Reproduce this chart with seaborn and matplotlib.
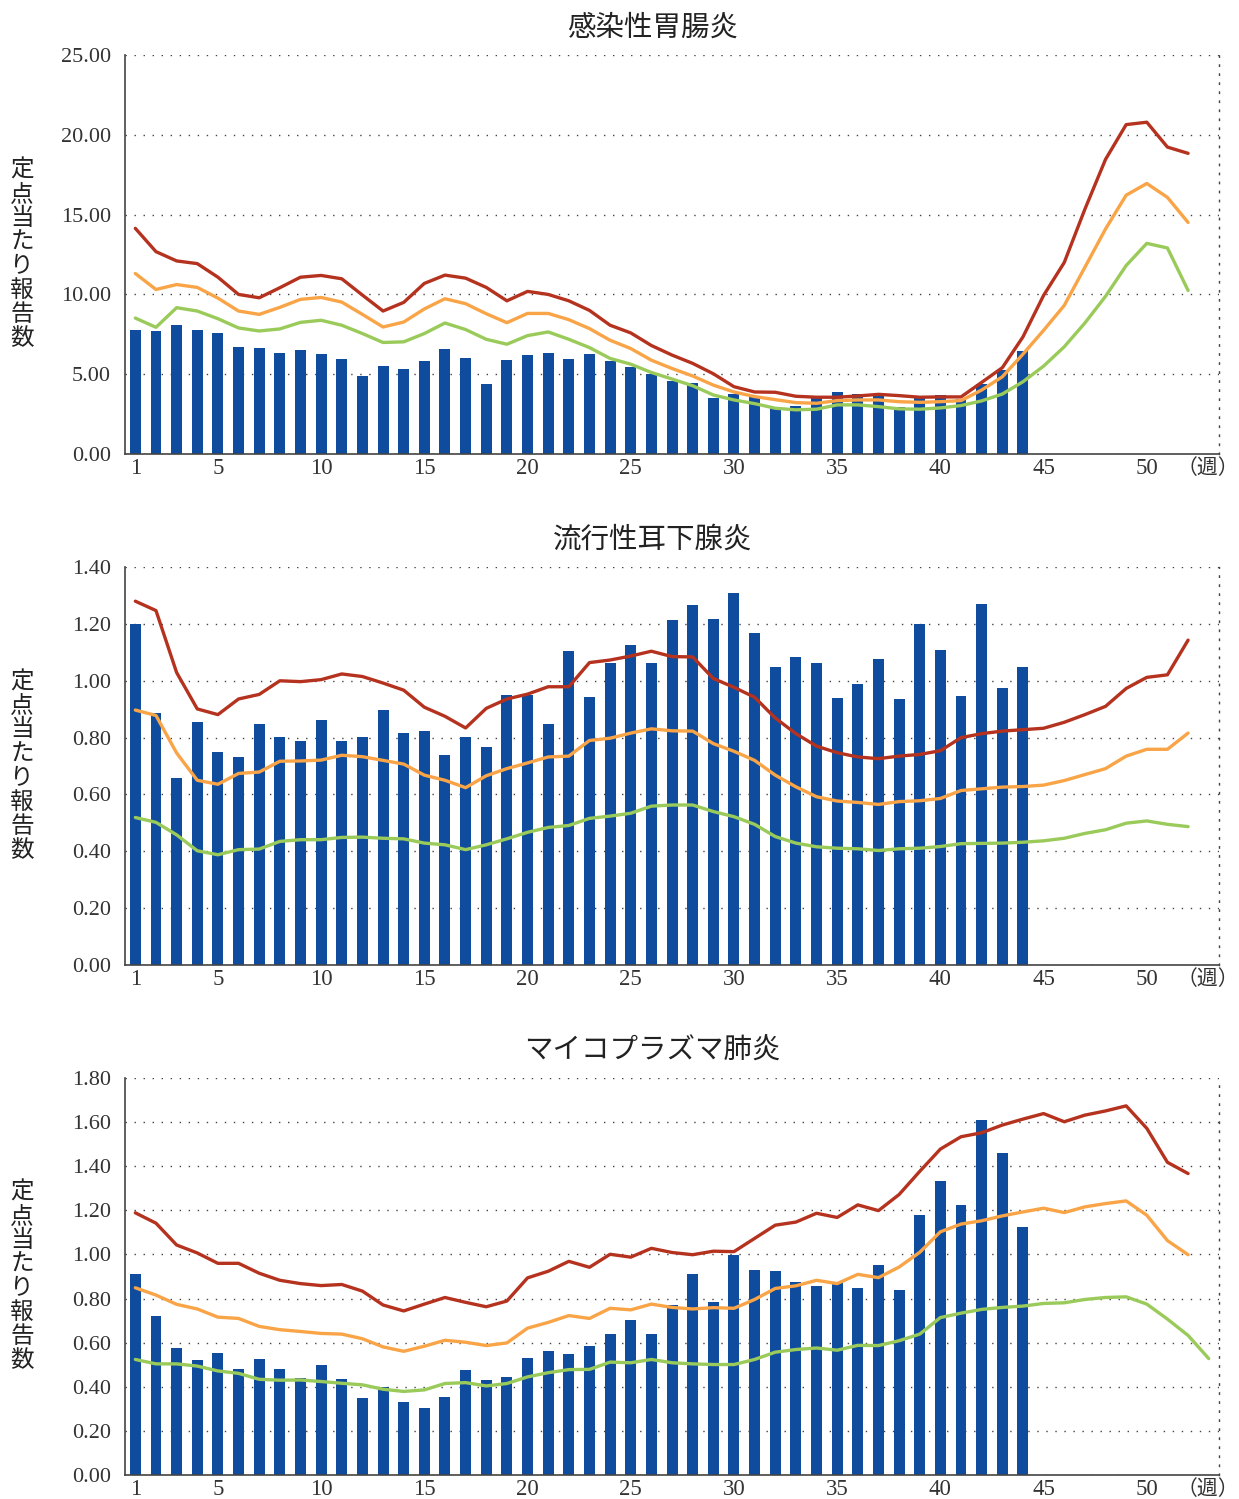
import numpy as np
import pandas as pd
import matplotlib
matplotlib.use("Agg")
import matplotlib.pyplot as plt
from matplotlib.ticker import FormatStrFormatter
import seaborn as sns

# ---- data ----
weeks = list(range(1, 54))
bar_weeks = weeks[:44]

titles = ["感染性胃腸炎", "流行性耳下腺炎", "マイコプラズマ肺炎"]
y_max = [25.0, 1.4, 1.8]
y_step = [5.0, 0.2, 0.2]

# panel 1: 感染性胃腸炎
gastro_bars = [7.75, 7.69, 8.07, 7.75, 7.57, 6.69, 6.63, 6.32, 6.51, 6.26,
               5.95, 4.89, 5.51, 5.32, 5.82, 6.57, 6.01, 4.39, 5.88, 6.20,
               6.32, 5.95, 6.26, 5.82, 5.45, 5.01, 4.57, 4.45, 3.51, 3.76,
               3.58, 2.89, 3.01, 3.51, 3.89, 3.76, 3.70, 2.95, 3.64, 3.70,
               3.45, 4.39, 5.26, 6.44]
gastro_red = [14.14, 12.68, 12.10, 11.93, 11.08, 10.00, 9.79, 10.42, 11.08, 11.19,
              10.98, 9.96, 8.96, 9.50, 10.69, 11.21, 11.02, 10.44, 9.60, 10.19,
              10.00, 9.60, 9.00, 8.07, 7.59, 6.80, 6.20, 5.68, 5.03, 4.22,
              3.89, 3.87, 3.62, 3.56, 3.56, 3.64, 3.74, 3.66, 3.56, 3.58,
              3.58, 4.49, 5.41, 7.34, 9.94, 12.00, 15.34, 18.46, 20.64, 20.79,
              19.23, 18.84]
gastro_orange = [11.31, 10.31, 10.62, 10.44, 9.77, 8.96, 8.75, 9.19, 9.69, 9.81,
                 9.52, 8.75, 7.96, 8.27, 9.09, 9.73, 9.42, 8.79, 8.23, 8.81,
                 8.81, 8.42, 7.86, 7.13, 6.61, 5.88, 5.36, 4.89, 4.32, 3.89,
                 3.60, 3.41, 3.22, 3.18, 3.35, 3.39, 3.39, 3.28, 3.24, 3.28,
                 3.35, 4.01, 4.84, 6.26, 7.75, 9.31, 11.70, 14.10, 16.22, 16.95,
                 16.08, 14.51]
gastro_green = [8.52, 7.94, 9.17, 8.96, 8.48, 7.90, 7.71, 7.84, 8.25, 8.38,
                8.07, 7.55, 6.99, 7.03, 7.55, 8.21, 7.80, 7.19, 6.88, 7.42,
                7.65, 7.19, 6.67, 5.99, 5.63, 5.11, 4.70, 4.28, 3.70, 3.39,
                3.16, 2.87, 2.77, 2.81, 3.08, 3.08, 2.97, 2.83, 2.81, 2.89,
                3.04, 3.33, 3.76, 4.53, 5.51, 6.72, 8.21, 9.88, 11.81, 13.20,
                12.91, 10.25]

# panel 2: 流行性耳下腺炎
mumps_bars = [1.200, 0.886, 0.658, 0.854, 0.749, 0.732, 0.847, 0.802, 0.788, 0.861,
              0.788, 0.802, 0.896, 0.816, 0.823, 0.739, 0.802, 0.767, 0.949, 0.949,
              0.847, 1.106, 0.942, 1.064, 1.127, 1.064, 1.214, 1.267, 1.218, 1.309,
              1.169, 1.050, 1.085, 1.064, 0.938, 0.987, 1.075, 0.935, 1.200, 1.110,
              0.945, 1.270, 0.973, 1.050]
mumps_red = [1.280, 1.247, 1.029, 0.901, 0.881, 0.936, 0.952, 1.000, 0.997, 1.004,
             1.024, 1.015, 0.992, 0.967, 0.907, 0.875, 0.834, 0.903, 0.936, 0.953,
             0.979, 0.979, 1.064, 1.073, 1.087, 1.104, 1.085, 1.084, 1.008, 0.977,
             0.942, 0.869, 0.814, 0.770, 0.747, 0.732, 0.726, 0.735, 0.741, 0.754,
             0.800, 0.814, 0.823, 0.828, 0.833, 0.854, 0.881, 0.910, 0.973, 1.012,
             1.021, 1.143]
mumps_orange = [0.897, 0.878, 0.746, 0.650, 0.636, 0.674, 0.679, 0.717, 0.718, 0.721,
                0.738, 0.733, 0.720, 0.707, 0.668, 0.650, 0.624, 0.666, 0.691, 0.711,
                0.732, 0.735, 0.790, 0.798, 0.816, 0.831, 0.824, 0.823, 0.779, 0.752,
                0.720, 0.668, 0.627, 0.592, 0.577, 0.572, 0.565, 0.575, 0.578, 0.586,
                0.614, 0.620, 0.626, 0.628, 0.633, 0.649, 0.670, 0.691, 0.735, 0.759,
                0.759, 0.816]
mumps_green = [0.519, 0.502, 0.458, 0.402, 0.388, 0.406, 0.408, 0.435, 0.441, 0.441,
               0.449, 0.450, 0.446, 0.444, 0.429, 0.423, 0.406, 0.423, 0.444, 0.467,
               0.484, 0.491, 0.516, 0.524, 0.534, 0.559, 0.563, 0.563, 0.540, 0.522,
               0.495, 0.452, 0.429, 0.416, 0.411, 0.409, 0.403, 0.409, 0.411, 0.417,
               0.427, 0.428, 0.429, 0.432, 0.437, 0.446, 0.463, 0.476, 0.499, 0.507,
               0.495, 0.487]

# panel 3: マイコプラズマ肺炎
myco_bars = [0.912, 0.719, 0.575, 0.521, 0.552, 0.481, 0.525, 0.481, 0.440, 0.499,
             0.436, 0.350, 0.400, 0.332, 0.305, 0.355, 0.476, 0.431, 0.445, 0.530,
             0.561, 0.548, 0.584, 0.638, 0.701, 0.638, 0.772, 0.912, 0.786, 0.997,
             0.930, 0.925, 0.876, 0.858, 0.876, 0.849, 0.952, 0.840, 1.177, 1.334,
             1.226, 1.608, 1.460, 1.123]
myco_red = [1.189, 1.142, 1.043, 1.007, 0.960, 0.960, 0.915, 0.883, 0.868, 0.859,
            0.864, 0.834, 0.771, 0.744, 0.775, 0.805, 0.783, 0.763, 0.789, 0.894,
            0.924, 0.969, 0.942, 1.001, 0.988, 1.028, 1.009, 0.999, 1.015, 1.013,
            1.073, 1.133, 1.147, 1.187, 1.168, 1.225, 1.199, 1.272, 1.377, 1.478,
            1.534, 1.552, 1.587, 1.614, 1.639, 1.602, 1.632, 1.651, 1.674, 1.572,
            1.418, 1.367]
myco_orange = [0.849, 0.816, 0.774, 0.753, 0.716, 0.710, 0.674, 0.659, 0.651, 0.642,
               0.639, 0.618, 0.581, 0.561, 0.584, 0.611, 0.602, 0.587, 0.599, 0.666,
               0.692, 0.723, 0.710, 0.756, 0.749, 0.775, 0.760, 0.753, 0.759, 0.756,
               0.796, 0.846, 0.858, 0.883, 0.868, 0.910, 0.895, 0.943, 1.010, 1.103,
               1.138, 1.153, 1.175, 1.193, 1.210, 1.190, 1.216, 1.231, 1.243, 1.178,
               1.063, 0.999]
myco_green = [0.524, 0.504, 0.504, 0.494, 0.472, 0.461, 0.434, 0.430, 0.431, 0.424,
              0.416, 0.409, 0.389, 0.379, 0.386, 0.415, 0.419, 0.404, 0.415, 0.445,
              0.464, 0.478, 0.479, 0.512, 0.509, 0.524, 0.509, 0.504, 0.501, 0.501,
              0.524, 0.557, 0.569, 0.576, 0.566, 0.588, 0.587, 0.609, 0.639, 0.714,
              0.734, 0.751, 0.760, 0.766, 0.778, 0.781, 0.796, 0.805, 0.808, 0.775,
              0.707, 0.633, 0.528]

bars_all = [gastro_bars, mumps_bars, myco_bars]
lines_all = [
    [gastro_red, gastro_orange, gastro_green],
    [mumps_red, mumps_orange, mumps_green],
    [myco_red, myco_orange, myco_green],
]
line_colors = ["#B5321F", "#F9A447", "#9ACB5A"]
bar_color = "#0F4C9D"

# ---- style ----
sns.set_style("white")
plt.rcParams["font.family"] = ["Liberation Serif", "Noto Sans CJK JP"]
cjk = ["Noto Sans CJK JP", "DejaVu Sans"]
dotted = (0, (1, 5.5))

fig = plt.figure(figsize=(12.39, 14.99), dpi=100)
positions = [
    [0.1009, 0.6971, 0.8830, 0.2662],
    [0.1009, 0.3562, 0.8830, 0.2655],
    [0.1009, 0.0160, 0.8830, 0.2648],
]

for i in range(3):
    ax = fig.add_axes(positions[i])

    df_bar = pd.DataFrame({"week": bar_weeks, "value": bars_all[i]})
    sns.barplot(data=df_bar, x="week", y="value", native_scale=True,
                width=0.53, color=bar_color, saturation=1, errorbar=None,
                linewidth=0, ax=ax)

    for vals, c in zip(lines_all[i], line_colors):
        sns.lineplot(x=weeks[:len(vals)], y=vals, color=c, linewidth=2.4,
                     ax=ax, zorder=3)

    ax.set_xlim(0.5, 53.5)
    ax.set_ylim(0, y_max[i])
    ax.set_yticks(np.arange(0, y_max[i] + y_step[i] / 2, y_step[i]))
    ax.yaxis.set_major_formatter(FormatStrFormatter("%.2f"))
    ax.set_xticks([1, 5, 10, 15, 20, 25, 30, 35, 40, 45, 50])
    ax.set_xticklabels(["1", "5", "10", "15", "20", "25", "30", "35", "40", "45", "50"])
    ax.set_xticks(np.arange(1.5, 53.6, 1), minor=True)
    ax.tick_params(axis="x", which="major", length=0, pad=3, labelsize=16.5,
                   labelcolor="#333333")
    ax.tick_params(axis="x", which="minor", direction="in", length=8, width=1,
                   color="#333333")
    ax.tick_params(axis="y", length=0, pad=10, labelsize=16, labelcolor="#333333")
    ax.set_xlabel("")
    ax.set_ylabel("")

    ax.set_axisbelow(True)
    ax.yaxis.grid(True, linestyle=dotted, color="#444444", linewidth=1)
    ax.xaxis.grid(False)

    ax.spines["top"].set_visible(False)
    ax.spines["right"].set_linestyle(dotted)
    ax.spines["right"].set_color("#444444")
    ax.spines["right"].set_linewidth(1)
    for s in ["left", "bottom"]:
        ax.spines[s].set_color("#444444")
        ax.spines[s].set_linewidth(1.2)

    ax.set_title(titles[i], x=0.482, pad=14, fontsize=20.5, family=cjk,
                 color="#222222")
    ax.text(-0.094, 0.5, "\n".join("定点当たり報告数"), transform=ax.transAxes,
            ha="center", va="center", fontsize=17, family=cjk,
            linespacing=1.06, color="#222222")
    ax.text(1.0183, -0.036, "（週）", transform=ax.transAxes, ha="right",
            va="center", fontsize=15, family=cjk, color="#333333")

fig.savefig("out.png", dpi=100)
